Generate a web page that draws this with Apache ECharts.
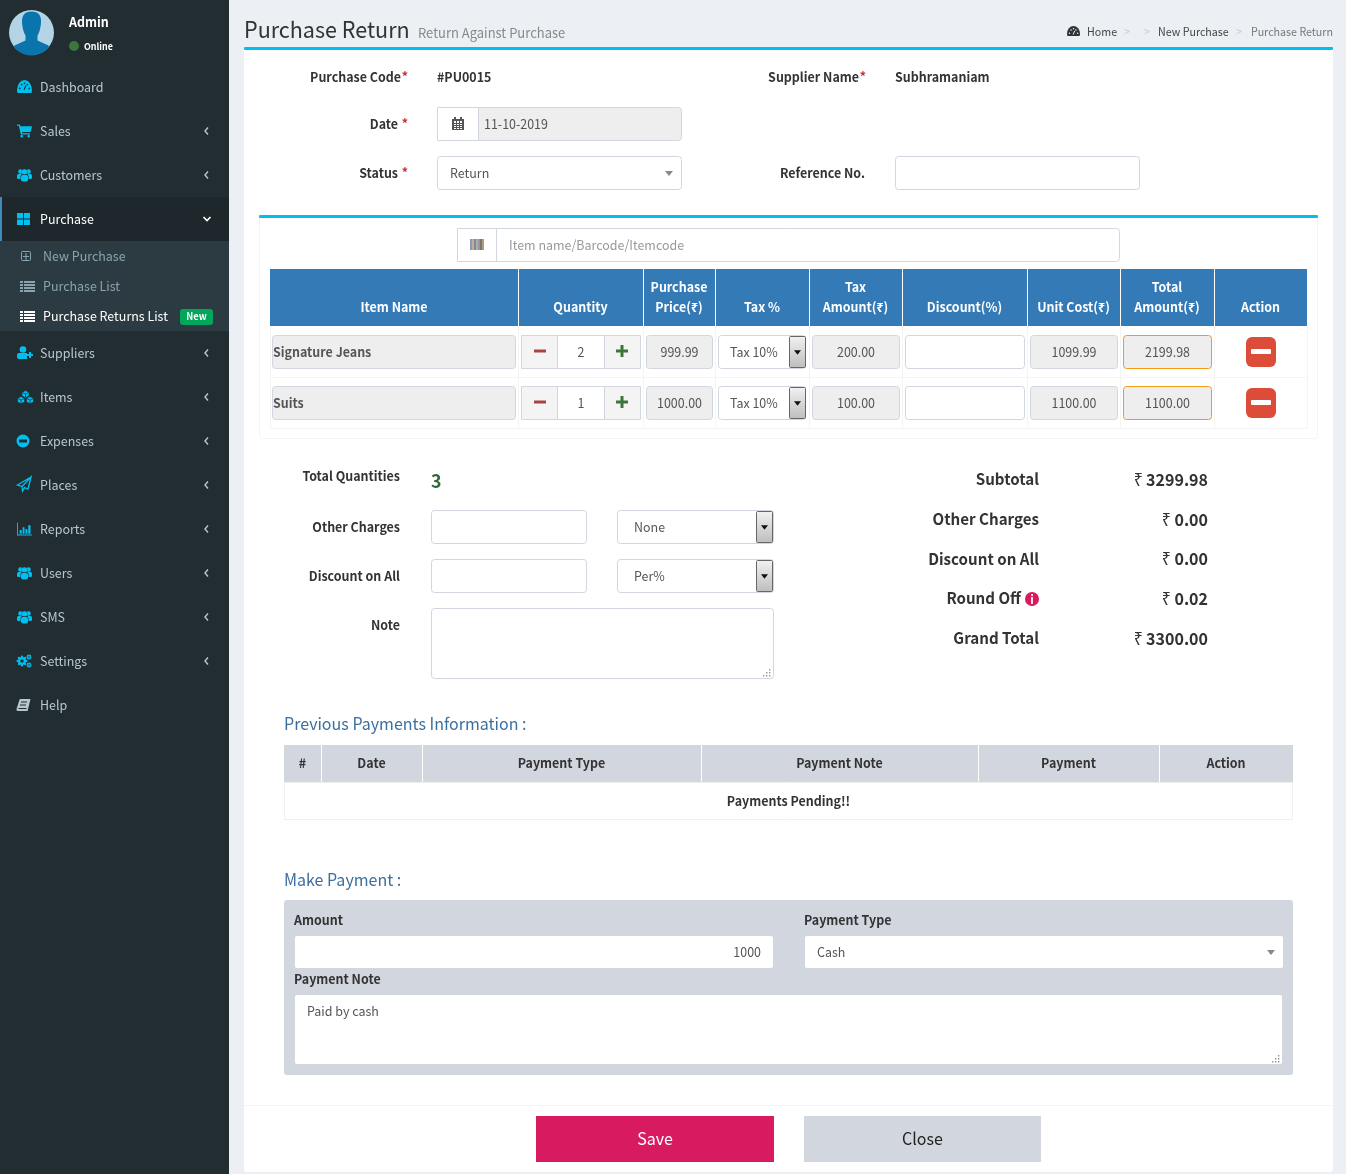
<!DOCTYPE html>
<html>
<head>
<meta charset="utf-8">
<title>Purchase Return</title>
<style>
  html, body { margin: 0; padding: 0; background: #ecf0f5; }
  #charts { width: 1346px; height: 1174px; }
</style>
<script src="https://cdn.jsdelivr.net/npm/echarts@6/dist/echarts.min.js"></script>
</head>
<body>
<div id="charts"></div>
<script>
// page content
var menuLabels = ['Dashboard', 'Sales', 'Customers', 'Purchase'];
var menuLabelsAfter = ['Suppliers', 'Items', 'Expenses', 'Places', 'Reports', 'Users', 'SMS', 'Settings', 'Help'];
var subMenuLabels = ['New Purchase', 'Purchase List', 'Purchase Returns List'];
var crumbs = ['Home', 'New Purchase', 'Purchase Return'];
var itemColumns = [['Item Name'], ['Quantity'], ['Purchase', 'Price(₹)'], ['Tax %'], ['Tax', 'Amount(₹)'], ['Discount(%)'], ['Unit Cost(₹)'], ['Total', 'Amount(₹)'], ['Action']];
var itemNames = ['Signature Jeans', 'Suits'];
var quantities = [2, 1];
var prices = ['999.99', '1000.00'];
var taxLabels = ['Tax 10%', 'Tax 10%'];
var taxAmounts = ['200.00', '100.00'];
var unitCosts = ['1099.99', '1100.00'];
var totalAmounts = ['2199.98', '1100.00'];
var summaryLabels = ['Subtotal', 'Other Charges', 'Discount on All', 'Round Off', 'Grand Total'];
var summaryValues = ['3299.98', '0.00', '0.00', '0.02', '3300.00'];
var paymentColumns = ['#', 'Date', 'Payment Type', 'Payment Note', 'Payment', 'Action'];

var FONT = '"Noto Sans CJK SC", "Noto Sans", sans-serif';
var CYAN = '#00c0ef', BORDER = '#d2d6de', TEXT = '#333', INPUT = '#555', DISABLED = '#eee', SIDE = '#222d32';
var els = [];
var shapeCount = 0;

function rect(x, y, w, h, fill, stroke, r) {
  els.push({ type: 'rect', silent: true,
    shape: { x: stroke ? x + 0.5 : x, y: stroke ? y + 0.5 : y, width: stroke ? w - 1 : w, height: stroke ? h - 1 : h, r: r || 0 },
    style: { fill: fill || 'transparent', stroke: stroke || null, lineWidth: 1 } });
}
// the cjk font has a wider latin than the page font: shrink a bit and squeeze the rest
function text(x, y, str, size, color, weight, align) {
  els.push({ type: 'text', silent: true, x: x, y: y + 0.5, scaleX: 0.957,
    style: { text: String(str), fontSize: size * 0.93, fontFamily: FONT, fontWeight: weight || 'normal', fill: color || TEXT,
      textAlign: align || 'left', textVerticalAlign: 'middle', align: align || 'left', verticalAlign: 'middle' } });
}
// graphic has no plain path type, so each svg path gets registered as a shape
function icon(pathData, x, y, w, h, fill) {
  var name = 'icon' + (shapeCount++);
  var Clz = echarts.graphic.extendPath(pathData, {});
  echarts.graphic.registerShape(name, Clz);
  var box = new Clz({}).getBoundingRect();
  var sx = w ? w / box.width : 1, sy = h ? h / box.height : 1;
  els.push({ type: name, silent: true, x: w ? x - box.x * sx : x, y: h ? y - box.y * sy : y, scaleX: sx, scaleY: sy, style: { fill: fill || CYAN } });
}
function line(points, color, width) {
  els.push({ type: 'polyline', silent: true, shape: { points: points }, style: { stroke: color, lineWidth: width || 1, fill: null } });
}
function circle(cx, cy, r, fill) {
  els.push({ type: 'circle', silent: true, shape: { cx: cx, cy: cy, r: r }, style: { fill: fill } });
}
function arrowDown(cx, cy, color, s) {
  els.push({ type: 'polygon', silent: true, shape: { points: [[cx - s, cy - s / 2], [cx + s, cy - s / 2], [cx, cy + s / 2 + 1]] }, style: { fill: color } });
}
function nativeSelectButton(x, y, h) {
  rect(x, y, 17, h, { type: 'linear', x: 0, y: 0, x2: 0, y2: 1, colorStops: [{ offset: 0, color: '#f2f2f2' }, { offset: 1, color: '#bdbdbd' }] }, '#666', 1);
  arrowDown(x + 8.5, y + h / 2, '#111', 3.5);
}
function resizeGrip(x, y) {
  [[0, 6], [3, 3], [6, 0], [3, 6], [6, 3], [6, 6]].forEach(function (p) { rect(x + p[0], y + p[1], 1.4, 1.4, '#999'); });
}
function gauge(x, y, w, h, fill, hole) {
  icon('M0 12A8 8 0 0 1 16 12Q16 14 15 14H1Q0 14 0 12Z', x, y, w, h, fill);
  var u = w / 16;
  [[3, 9], [5, 5], [8, 3.5], [11, 5], [13, 9]].forEach(function (p) { circle(x + p[0] * u, y + p[1] * u, 0.9 * u, hole); });
  line([[x + 7.5 * u, y + 10.5 * u], [x + 9.5 * u, y + 6 * u]], hole, 1.2 * u);
}
function people(y) {
  circle(20.5, y - 3.5, 2.3, CYAN);
  circle(28.5, y - 3.5, 2.3, CYAN);
  rect(17, y - 1, 5, 5, CYAN, null, 1.5);
  rect(27, y - 1, 5, 5, CYAN, null, 1.5);
  circle(24.5, y - 3, 3, SIDE);
  circle(24.5, y - 3, 2.8, CYAN);
  rect(20.5, y - 0.5, 8, 7, SIDE, null, 2);
  rect(21, y, 7, 6.5, CYAN, null, 2);
}
function cube(x, y) {
  els.push({ type: 'polygon', silent: true, shape: { points: [[x, y - 3.5], [x + 3.6, y - 1.8], [x + 3.6, y + 2], [x, y + 3.8], [x - 3.6, y + 2], [x - 3.6, y - 1.8]] }, style: { fill: CYAN, stroke: SIDE, lineWidth: 0.8 } });
  line([[x - 3, y - 1.4], [x, y], [x + 3, y - 1.4]], SIDE, 0.8);
  line([[x, y], [x, y + 3]], SIDE, 0.8);
}
function gear(cx, cy, r, hole) {
  for (var i = 0; i < 8; i++) {
    var a = i * Math.PI / 4;
    circle(cx + Math.cos(a) * r, cy + Math.sin(a) * r, r * 0.26, CYAN);
  }
  circle(cx, cy, r * 0.9, CYAN);
  circle(cx, cy, hole, SIDE);
}

var menuIcons = {
  Sales: 'M0 1H3L3.6 3H16L14.5 9.5H5.2L5.5 11H14V12.5H4L2 2.5H0Z M5 13a1.4 1.4 0 1 0 .01 0Z M12.5 13a1.4 1.4 0 1 0 .01 0Z',
  Purchase: 'M0 0H6.7V5.6H0Z M7.7 0H14.4V5.6H7.7Z M0 6.6H6.7V12.2H0Z M7.7 6.6H14.4V12.2H7.7Z',
  Reports: 'M0 0H1V13H16V14H0Z M2.8 8H5V12H2.8Z M6 5H8V12H6Z M9 7H11V12H9Z M12 3H14.4V12H12Z',
  Help: 'M4 1H15L12 13H2Q0 13 1 10Z'
};
var peopleRows = ['Customers', 'Users', 'SMS'];

// ---- sidebar ----
rect(0, 0, 229, 1174, SIDE);
circle(31.5, 32.5, 22.5, '#b3d4e5');
icon('M23 2Q33 2 32.5 13Q32 21 29 26V31L40 36L40.4 38A23 23 0 0 1 5.6 38L6 36L17 31V26Q14 21 13.5 13Q13 2 23 2Z', 8.5, 9.5, 0, 0, '#0a74ad');
text(69, 22, 'Admin', 14, '#fff', 'bold');
circle(74, 46, 5, '#3c763d');
text(84, 46, 'Online', 10, '#fff', 'bold');

function menuRow(label, y, active) {
  if (active) {
    rect(0, y - 22, 229, 44, '#1e282c');
    rect(0, y - 22, 2, 44, '#3c8dbc');
  }
  if (label === 'Dashboard') {
    gauge(17, y - 7, 15, 13, CYAN, SIDE);
  } else if (peopleRows.indexOf(label) >= 0) {
    people(y);
  } else if (label === 'Suppliers') {
    circle(23, y - 3.5, 3.3, CYAN);
    rect(17, y, 12, 6, CYAN, null, 2);
    rect(27, y - 1, 6, 7, SIDE);
    rect(27, y + 1, 6, 2, CYAN);
    rect(29, y - 1, 2, 6, CYAN);
  } else if (label === 'Items') {
    cube(25.5, y - 3);
    cube(21, y + 3);
    cube(30, y + 3);
  } else if (label === 'Expenses') {
    circle(23, y, 6.5, CYAN);
    rect(19, y - 1.5, 8, 3, SIDE);
  } else if (label === 'Places') {
    line([[31, y - 8], [17.5, y], [22, y + 1.5], [31, y - 8], [28, y + 4], [24.5, y + 2.6], [22.5, y + 6], [22, y + 1.5]], CYAN, 1.3);
  } else if (label === 'Settings') {
    gear(22, y, 4.4, 1.7);
    gear(29, y - 4, 2.2, 0.8);
    gear(29, y + 4, 2.2, 0.8);
  } else if (label === 'Help') {
    icon(menuIcons.Help, 16.5, y - 6, 14, 12, '#b8c7ce');
    line([[21, y - 3], [27, y - 3]], SIDE, 1);
    line([[20, y], [26, y]], SIDE, 1);
    line([[18.5, y + 3.5], [26.5, y + 3.5]], SIDE, 1);
  } else {
    var h = label === 'Purchase' ? 12 : 13;
    icon(menuIcons[label], 17, y - h / 2, label === 'Purchase' ? 13 : 15, h);
  }
  text(40, y, label, 14, active ? '#fff' : '#b8c7ce');
  if (label === 'Dashboard' || label === 'Help') return;
  if (active) line([[203.5, y - 2], [207, y + 1.5], [210.5, y - 2]], '#fff', 1.6);
  else line([[208, y - 3.5], [205, y], [208, y + 3.5]], '#b8c7ce', 1.4);
}
menuLabels.forEach(function (label, i) { menuRow(label, 87 + i * 44, label === 'Purchase'); });

rect(0, 241, 229, 90, '#2c3b41');
rect(21, 251, 10, 10, null, '#8aa4af', 1);
rect(25.5, 253, 1, 7, '#8aa4af'); rect(23, 256, 6, 1, '#8aa4af');
[286, 316].forEach(function (y) {
  var c = y === 316 ? '#fff' : '#8aa4af';
  [-5, -2, 1, 4].forEach(function (dy) { rect(24, y + dy, 11, 2, c); rect(20, y + dy, 3, 2, c); });
});
subMenuLabels.forEach(function (label, i) {
  text(43, 256 + i * 30, label, 14, i === 2 ? '#fff' : '#8aa4af');
});
rect(180, 309, 33, 16, '#00a65a', null, 3);
text(196.5, 316, 'New', 10.5, '#fff', 'bold', 'center');

menuLabelsAfter.forEach(function (label, i) { menuRow(label, 353 + i * 44, false); });

// ---- header ----
text(244, 28.5, 'Purchase Return', 24.2, TEXT);
text(418, 32, 'Return Against Purchase', 14.6, '#888');
gauge(1067, 26, 13, 10, TEXT, '#ecf0f5');
text(1087, 31, crumbs[0], 12, '#444');
text(1124, 31, '>', 12, '#ccc');
text(1144, 31, '>', 12, '#ccc');
text(1158, 31, crumbs[1], 12, '#444');
text(1236, 31, '>', 12, '#ccc');
text(1333, 31, crumbs[2], 12, '#777', 'normal', 'right');

// ---- main box ----
rect(244, 47, 1089, 1125, '#fff', null, 3);
rect(244, 47, 1089, 3, CYAN, null, 1);

function req(x, y) { text(x, y, '*', 14, '#c9302c', 'bold', 'right'); }
text(401, 77, 'Purchase Code', 14, TEXT, 'bold', 'right'); req(408, 76);
text(437, 77, '#PU0015', 14, TEXT, 'bold');
text(859, 77, 'Supplier Name', 14, TEXT, 'bold', 'right'); req(866, 76);
text(895, 77, 'Subhramaniam', 14, TEXT, 'bold');

text(398, 124, 'Date', 14, TEXT, 'bold', 'right'); req(408, 123);
rect(437, 107, 245, 34, DISABLED, BORDER, 3);
rect(437, 107, 42, 34, '#fff', BORDER);
icon('M0 2H2V0H4V2H8V0H10V2H12V13H0Z', 452, 117, 12, 13, INPUT);
rect(453, 121, 10, 8, '#fff');
[453, 456, 459, 462].forEach(function (x) { rect(x, 121, 1, 8, INPUT); });
[123, 125, 127].forEach(function (y) { rect(453, y, 10, 1, INPUT); });
text(484, 124, '11-10-2019', 14, INPUT);

text(398, 173, 'Status', 14, TEXT, 'bold', 'right'); req(408, 172);
rect(437, 156, 245, 34, '#fff', BORDER, 3);
text(450, 173, 'Return', 14, INPUT);
arrowDown(669, 173, '#888', 4);
text(865, 173, 'Reference No.', 14, TEXT, 'bold', 'right');
rect(895, 156, 245, 34, '#fff', BORDER, 3);

// ---- items box ----
rect(259, 215, 1059, 224, '#fff', '#f4f4f4', 3);
rect(259, 215, 1059, 3, CYAN, null, 1);
rect(457, 228, 663, 34, '#fff', BORDER, 3);
rect(457, 228, 40, 34, '#fff', BORDER);
['#7f9fb5', '#c8a8a0', '#888', '#9fb7a0', '#a08fb0', '#777', '#b0a070'].forEach(function (c, i) { rect(470 + i * 2, 239, 2, 11, c); });
text(509, 245, 'Item name/Barcode/Itemcode', 14, '#999');

var colEdges = [270, 518, 643, 715, 809, 902, 1027, 1120, 1214, 1307];
rect(270, 269, 1037, 57, '#337ab7');
itemColumns.forEach(function (lines, i) {
  var cx = (colEdges[i] + colEdges[i + 1]) / 2;
  if (i > 0) rect(colEdges[i], 269, 1, 57, '#fff');
  if (lines.length === 2) text(cx, 287, lines[0], 14, '#fff', 'bold', 'center');
  text(cx, 307, lines[lines.length - 1], 14, '#fff', 'bold', 'center');
});
for (var e = 0; e < colEdges.length; e++) rect(colEdges[e], 326, 1, 103, '#f4f4f4');
rect(270, 377, 1037, 1, '#f4f4f4');
rect(270, 428, 1037, 1, '#f4f4f4');

itemNames.forEach(function (name, i) {
  var top = 335 + i * 51, mid = top + 17, bar = top + 16;
  rect(272, top, 244, 34, DISABLED, BORDER, 3);
  text(273, mid, name, 14, INPUT, 'bold');
  // quantity stepper
  rect(521, top, 120, 34, '#f4f4f4', BORDER);
  rect(557, top, 48, 34, '#fff', BORDER);
  rect(534, bar - 1.5, 12, 3, '#a94442');
  text(581, mid, quantities[i], 14, INPUT, 'normal', 'center');
  rect(616, bar - 1.5, 12, 3, '#3c763d');
  rect(620.5, bar - 6, 3, 12, '#3c763d');
  // price, tax
  rect(646, top, 67, 34, DISABLED, BORDER, 3);
  text(679.5, mid, prices[i], 14, INPUT, 'normal', 'center');
  rect(718, top, 88, 34, '#fff', BORDER, 3);
  text(730, mid, taxLabels[i], 14, INPUT);
  nativeSelectButton(789, top + 1, 32);
  rect(812, top, 88, 34, DISABLED, BORDER, 3);
  text(856, mid, taxAmounts[i], 14, INPUT, 'normal', 'center');
  rect(905, top, 120, 34, '#fff', BORDER, 3);
  rect(1030, top, 88, 34, DISABLED, BORDER, 3);
  text(1074, mid, unitCosts[i], 14, INPUT, 'normal', 'center');
  rect(1123, top, 89, 34, DISABLED, '#f39c12', 3);
  text(1167.5, mid, totalAmounts[i], 14, INPUT, 'normal', 'center');
  // remove button
  rect(1246, top + 2, 30, 30, '#dd4b39', null, 6);
  rect(1251, top + 14, 20, 5, '#fff', null, 1);
});

// ---- totals, left ----
text(400, 476, 'Total Quantities', 14, TEXT, 'bold', 'right');
text(431, 480.5, quantities[0] + quantities[1], 20, '#2e6b3a', 'bold');
text(400, 527, 'Other Charges', 14, TEXT, 'bold', 'right');
rect(431, 510, 156, 34, '#fff', BORDER, 3);
rect(617, 510, 157, 34, '#fff', BORDER, 3);
text(634, 527, 'None', 14, INPUT);
nativeSelectButton(756, 511, 32);
text(400, 576, 'Discount on All', 14, TEXT, 'bold', 'right');
rect(431, 559, 156, 34, '#fff', BORDER, 3);
rect(617, 559, 157, 34, '#fff', BORDER, 3);
text(634, 576, 'Per%', 14, INPUT);
nativeSelectButton(756, 560, 32);
text(400, 625, 'Note', 14, TEXT, 'bold', 'right');
rect(431, 608, 343, 71, '#fff', BORDER, 3);
resizeGrip(763, 669);

// ---- totals, right ----
summaryLabels.forEach(function (label, i) {
  var y = 479.5 + i * 39.75;
  text(label === 'Round Off' ? 1021 : 1039, y - 1, label, 17, TEXT, 'bold', 'right');
  text(1208, y - 0.5, summaryValues[i], 18, TEXT, 'bold', 'right');
  var valueWidth = summaryValues[i].length > 4 ? 62 : 34;
  text(1208 - valueWidth - 3, y - 0.5, '₹', 18, TEXT, 'normal', 'right');
});
circle(1032, 599, 7, '#d81b60');
text(1032, 598.5, 'i', 13, '#fff', 'bold', 'center');

// ---- previous payments ----
text(284, 723.5, 'Previous Payments Information :', 18, '#3a6f9f');
var payEdges = [284, 321, 422, 701, 978, 1159, 1293];
rect(284, 745, 1009, 37, '#d2d6de');
paymentColumns.forEach(function (label, i) {
  if (i > 0) rect(payEdges[i], 745, 1, 37, '#fff');
  text((payEdges[i] + payEdges[i + 1]) / 2, 763, label, 14, TEXT, 'bold', 'center');
});
rect(284, 782, 1009, 38, '#fff', '#f0f0f0');
text(788.5, 801, 'Payments Pending!!', 14, TEXT, 'bold', 'center');

// ---- make payment ----
text(284, 879.5, 'Make Payment :', 18, '#3a6f9f');
rect(284, 900, 1009, 175, '#d2d6de', null, 3);
text(294, 920, 'Amount', 14, TEXT, 'bold');
text(804, 920, 'Payment Type', 14, TEXT, 'bold');
rect(295, 936, 478, 32, '#fff', null, 2);
text(761, 952, '1000', 14, INPUT, 'normal', 'right');
rect(805, 936, 478, 32, '#fff', null, 2);
text(817, 952, 'Cash', 14, INPUT);
arrowDown(1271, 952, '#888', 4);
text(294, 979, 'Payment Note', 14, TEXT, 'bold');
rect(295, 995, 987, 69, '#fff', null, 2);
text(307, 1011, 'Paid by cash', 14, INPUT);
resizeGrip(1272, 1055);

// ---- footer ----
rect(244, 1105, 1089, 1, '#f4f4f4');
rect(536, 1116, 238, 46, '#d81b60');
text(655, 1138.5, 'Save', 18, '#fff', 'normal', 'center');
rect(804, 1116, 237, 46, '#d2d6de');
text(922.5, 1138.5, 'Close', 18, '#222', 'normal', 'center');

var myChart = echarts.init(document.getElementById('charts'), null, { renderer: 'canvas' });
myChart.setOption({
  backgroundColor: '#ecf0f5',
  animation: false,
  graphic: { elements: els }
});
</script>
</body>
</html>
